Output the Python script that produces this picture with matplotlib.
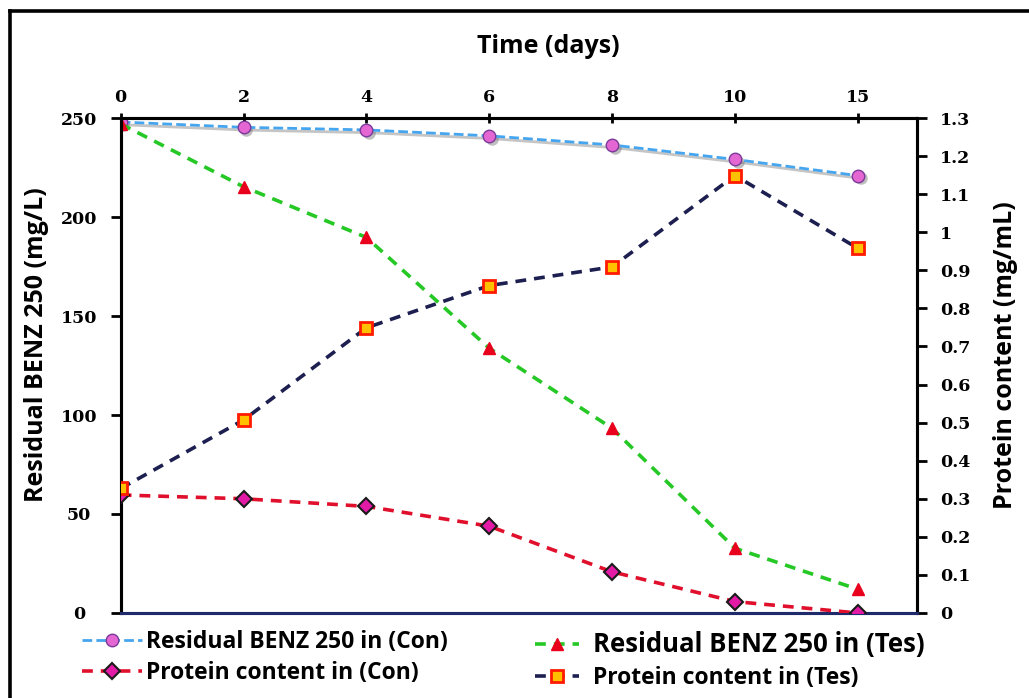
import matplotlib
matplotlib.use('Agg')
import matplotlib.pyplot as plt
from matplotlib.lines import Line2D
from matplotlib.ticker import FuncFormatter, MultipleLocator
from matplotlib.transforms import ScaledTranslation

# Sampling days (equally spaced categories on the time axis)
days = ['0', '2', '4', '6', '8', '10', '15']

# Residual BENZ 250 (mg/L), left axis
residual_con = [248, 245.3, 244, 241, 236.4, 229.1, 220.9]
residual_tes = [247, 215.3, 189.7, 133.7, 93.3, 32.7, 12]

# Protein content (mg/mL), right axis
protein_con = [0.31, 0.30, 0.28, 0.228, 0.108, 0.03, 0.0]
protein_tes = [0.327, 0.507, 0.749, 0.86, 0.909, 1.149, 0.958]

label_font = 'Open Sans'
tick_font = 'DejaVu Serif'

fig = plt.figure(figsize=(10.29, 6.98), dpi=100)
ax = fig.add_axes([0.1173, 0.1218, 0.7736, 0.7091])
ax2 = ax.twinx()

x = list(range(len(days)))

# soft drop shadow under the control residual curve
shadow = ax.transData + ScaledTranslation(2 / 72, -2 / 72, fig.dpi_scale_trans)
ax.plot(x, residual_con, color='#707070', alpha=0.4, lw=2.0,
        marker='o', ms=9, mfc='#606060', mec='none', transform=shadow,
        zorder=2)

l_rcon, = ax.plot(x, residual_con, color='#45a5ee', lw=2.0, dashes=(3.5, 1.5),
                  marker='o', ms=9, mfc='#e466d2', mec='#7a3a9a', mew=1.0,
                  label='Residual BENZ 250 in (Con)', zorder=3)
l_rtes, = ax.plot(x, residual_tes, color='#25c825', lw=2.6, dashes=(3, 2.2),
                  marker='^', ms=9, mfc='#e8001c', mec='#e8001c', mew=1.0,
                  label='Residual BENZ 250 in (Tes)', zorder=3)
l_pcon, = ax2.plot(x, protein_con, color='#e0102c', lw=2.6, dashes=(3, 2.2),
                   marker='D', ms=8, mfc='#e21aa6', mec='#1a1a1a', mew=1.5,
                   label='Protein content in (Con)', zorder=3)
l_ptes, = ax2.plot(x, protein_tes, color='#1c1f4f', lw=2.6, dashes=(3, 2.2),
                   marker='s', ms=9, mfc='#ffc000', mec='#ff1a00', mew=2.0,
                   label='Protein content in (Tes)', zorder=3)

ax.set_xlim(0, 6.48)
ax.set_ylim(0, 250)
ax2.set_ylim(0, 1.3)

# time axis sits on top
ax.xaxis.set_ticks_position('top')
ax.xaxis.set_label_position('top')
ax.set_xticks(x)
ax.set_xticklabels(days)
ax.tick_params(axis='x', direction='inout', length=7, width=2, pad=5,
               labelsize=12.5)
ax.set_xlabel('Time (days)', fontsize=18, fontweight='bold',
              fontfamily=label_font, va='center')
ax.xaxis.set_label_coords(0.537, 1.145)

ax.yaxis.set_major_locator(MultipleLocator(50))
ax.tick_params(axis='y', direction='out', length=7, width=2, pad=23,
               labelsize=12.5)
for t in ax.get_yticklabels():
    t.set_horizontalalignment('center')
ax.set_ylabel('Residual BENZ 250 (mg/L)', fontsize=18, fontweight='bold',
              fontfamily=label_font, va='center')
ax.yaxis.set_label_coords(-0.106, 0.543)

ax2.yaxis.set_major_locator(MultipleLocator(0.1))
ax2.yaxis.set_major_formatter(FuncFormatter(lambda v, p: f'{v:g}'))
ax2.tick_params(axis='y', direction='out', length=7, width=2, pad=10,
                labelsize=12.5)
ax2.set_ylabel('Protein content (mg/mL)', fontsize=18, fontweight='bold',
               fontfamily=label_font, va='center')
ax2.yaxis.set_label_coords(1.111, 0.52)

for a in (ax, ax2):
    for t in a.get_xticklabels() + a.get_yticklabels():
        t.set_fontfamily(tick_font)
        t.set_fontweight('bold')
    for s in a.spines.values():
        s.set_linewidth(2.2)
        s.set_color('black')
    a.spines['bottom'].set_color('#1f2a6b')

ax.tick_params(axis='x', bottom=False)

# legend, two columns below the plot
leg1 = fig.legend(handles=[l_rcon, l_pcon], loc='upper left',
                  bbox_to_anchor=(82 / 1029, 1 - 630 / 698), frameon=False,
                  borderpad=0, borderaxespad=0, handlelength=2.6,
                  handletextpad=0.2, labelspacing=0.3,
                  prop={'family': label_font, 'weight': 'bold', 'size': 16.5})
leg2 = fig.legend(handles=[l_rtes, l_ptes], loc='upper left',
                  bbox_to_anchor=(535 / 1029, 1 - 631 / 698), frameon=False,
                  borderpad=0, borderaxespad=0, handlelength=1.9,
                  handletextpad=0.65, labelspacing=0.35,
                  prop={'family': label_font, 'weight': 'bold', 'size': 16.5})
leg2.get_texts()[0].set_fontsize(18.5)

# outer frame
fig.add_artist(Line2D([10 / 1029, 1.01], [1 - 11 / 698] * 2, lw=2.6,
                      color='black', transform=fig.transFigure))
fig.add_artist(Line2D([10 / 1029] * 2, [1 - 11 / 698, -0.01], lw=2.6,
                      color='black', transform=fig.transFigure))

fig.savefig('out.png', dpi=100, facecolor='white')
